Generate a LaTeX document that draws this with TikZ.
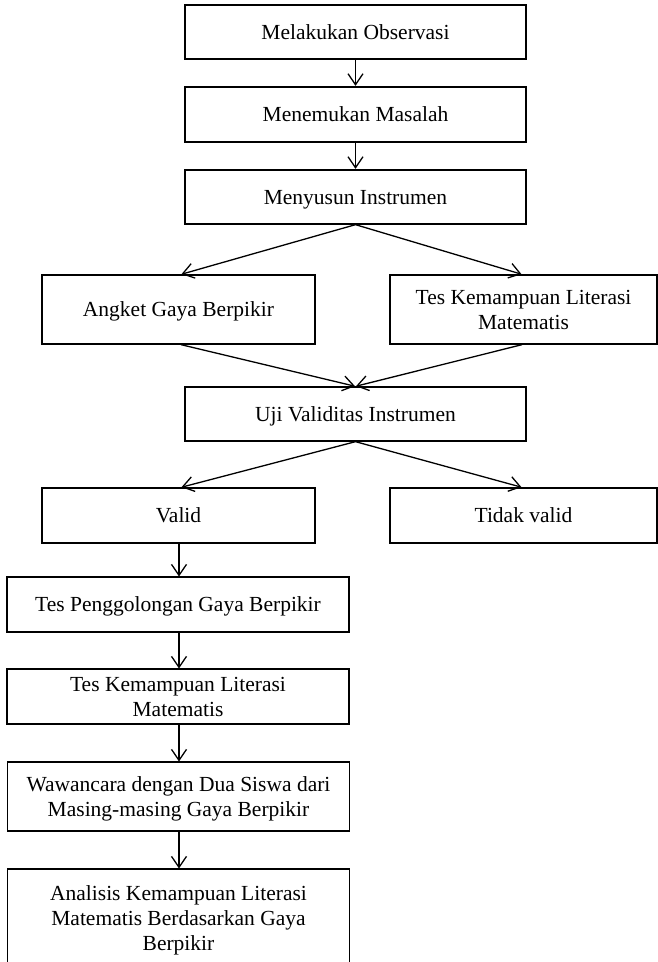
\documentclass[tikz,border=0pt]{standalone}
\usepackage{fontspec}
\setmainfont{Liberation Serif}
\usetikzlibrary{arrows.meta,calc}
\tikzset{
  box/.style={draw, line width=1.3pt, rectangle, inner sep=0pt, align=center,
    font=\fontsize{21.5pt}{25pt}\selectfont, text depth=0pt},
  conn/.style={line width=1.3pt, -{Straight Barb[length=11pt,width=15pt,line width=1.3pt]}, shorten >=0.5pt}
}
\begin{document}
\begin{tikzpicture}[x=1pt,y=-1pt]
\clip (0,0) rectangle (658,962);
\fill[white] (0,0) rectangle (658,962);
\node[box, minimum width=341, minimum height=54] (b1) at (355.5,32) {Melakukan Observasi};
\node[box, minimum width=341, minimum height=55] (b2) at (355.5,114.5) {Menemukan Masalah};
\node[box, minimum width=341, minimum height=54] (b3) at (355.5,197) {Menyusun Instrumen};
\node[box, minimum width=273, minimum height=69] (ang) at (178.5,309.5) {Angket Gaya Berpikir};
\node[box, minimum width=267, minimum height=69] (tes) at (523.5,309.5) {Tes Kemampuan Literasi\\Matematis};
\node[box, minimum width=341, minimum height=54] (uji) at (355.5,414) {Uji Validitas Instrumen};
\node[box, minimum width=273, minimum height=55] (val) at (178.5,515.5) {Valid};
\node[box, minimum width=267, minimum height=55] (tdk) at (523.5,515.5) {Tidak valid};
\node[box, minimum width=342, minimum height=55] (tp) at (178,604.5) {Tes Penggolongan Gaya Berpikir};
\node[box, minimum width=342, minimum height=55] (tk) at (178,696.5) {Tes Kemampuan Literasi\\Matematis};
\node[box, minimum width=342, minimum height=69] (ww) at (178.5,796.5) {Wawancara dengan Dua Siswa dari\\Masing-masing Gaya Berpikir};
\node[box, minimum width=342, minimum height=98] (an) at (178.5,918) {Analisis Kemampuan Literasi\\Matematis Berdasarkan Gaya\\Berpikir};
\draw[conn] (b1.south) -- (b2.north);
\draw[conn] (b2.south) -- (b3.north);
\draw[conn] (b3.south) -- ($(ang.north)+(2.5,0)$);
\draw[conn] (b3.south) -- ($(tes.north)+(-1.5,0)$);
\draw[conn] ($(ang.south)+(2.5,0)$) -- (uji.north);
\draw[conn] ($(tes.south)+(-1.5,0)$) -- (uji.north);
\draw[conn] (uji.south) -- ($(val.north)+(2.5,0)$);
\draw[conn] (uji.south) -- ($(tdk.north)+(-1.5,0)$);
\draw[conn] (179,543) -- (179,577);
\draw[conn] (179,632) -- (179,669);
\draw[conn] (179,724) -- (179,762);
\draw[conn] (179,831) -- (179,869);
\end{tikzpicture}
\end{document}
